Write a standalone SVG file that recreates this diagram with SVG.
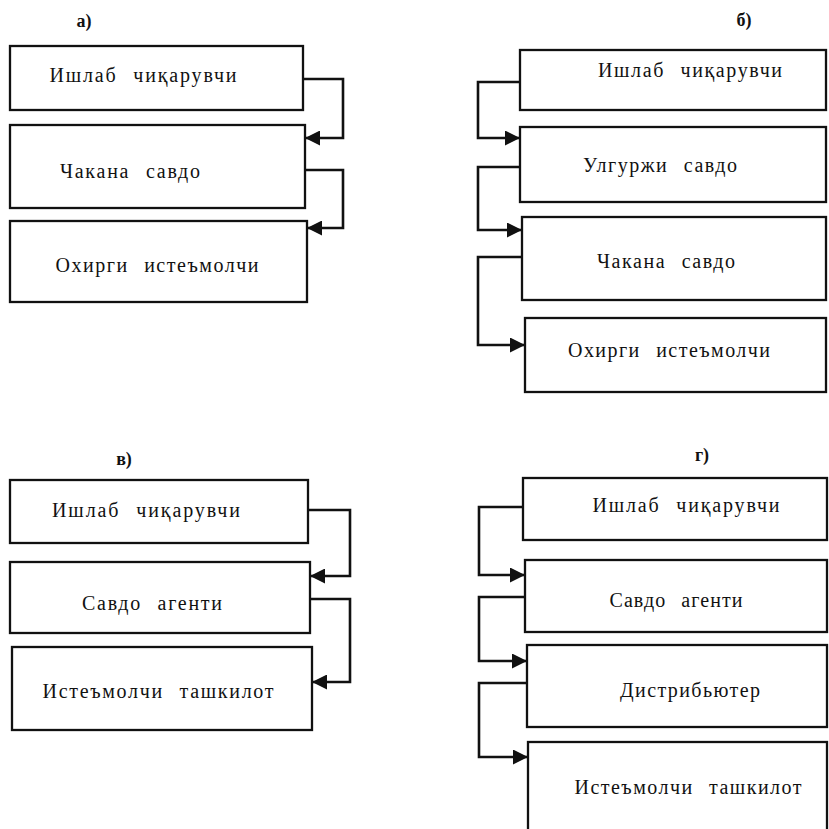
<svg xmlns="http://www.w3.org/2000/svg" width="829" height="829" viewBox="0 0 829 829">
<style>
.box{fill:#fff;stroke:#111;stroke-width:2.3}
.t{font-family:"Liberation Serif","Times New Roman",serif;font-size:20px;word-spacing:9px;fill:#111;text-anchor:middle}
.h{font-family:"Liberation Serif","Times New Roman",serif;font-size:18px;font-weight:bold;fill:#111;text-anchor:middle}
.c{fill:none;stroke:#111;stroke-width:2.6}
</style>
<defs>
<marker id="arr" viewBox="0 0 15 15" refX="15" refY="7.5" markerWidth="15" markerHeight="15" markerUnits="userSpaceOnUse" orient="auto">
<path d="M0,0 L15,7.5 L0,15 Z" fill="#111"/>
</marker>
</defs>
<rect width="829" height="829" fill="#fff"/>
<g id="labels">
<text class="h" x="84" y="27">а)</text>
<text class="h" x="744" y="26">б)</text>
<text class="h" x="124" y="465">в)</text>
<text class="h" x="702" y="461">г)</text>
</g>
<g id="connectors">
<path class="c" d="M303,79 H343 V138 H305" marker-end="url(#arr)"/>
<path class="c" d="M305,170 H343 V228 H307" marker-end="url(#arr)"/>
<path class="c" d="M520,82 H478 V138 H520" marker-end="url(#arr)"/>
<path class="c" d="M520,167 H478 V230 H522" marker-end="url(#arr)"/>
<path class="c" d="M522,257 H478 V345 H525" marker-end="url(#arr)"/>
<path class="c" d="M308,510 H350 V576 H310" marker-end="url(#arr)"/>
<path class="c" d="M310,599 H350 V682 H312" marker-end="url(#arr)"/>
<path class="c" d="M523,507 H479 V575 H525" marker-end="url(#arr)"/>
<path class="c" d="M525,597 H479 V661 H527" marker-end="url(#arr)"/>
<path class="c" d="M527,683 H479 V757 H528" marker-end="url(#arr)"/>
</g>
<g id="a1"><rect class="box" x="10" y="46" width="293" height="64"/><text class="t" x="143" y="82" textLength="187" lengthAdjust="spacing">Ишлаб чиқарувчи</text></g>
<g id="a2"><rect class="box" x="10" y="125" width="295" height="83"/><text class="t" x="130" y="178" textLength="140" lengthAdjust="spacing">Чакана савдо</text></g>
<g id="a3"><rect class="box" x="10" y="221" width="297" height="81"/><text class="t" x="157" y="272" textLength="203" lengthAdjust="spacing">Охирги истеъмолчи</text></g>
<g id="b1"><rect class="box" x="520" y="50" width="306" height="60"/><text class="t" x="690" y="77" textLength="184" lengthAdjust="spacing">Ишлаб чиқарувчи</text></g>
<g id="b2"><rect class="box" x="520" y="127" width="306" height="75"/><text class="t" x="660" y="172" textLength="154" lengthAdjust="spacing">Улгуржи савдо</text></g>
<g id="b3"><rect class="box" x="522" y="217" width="304" height="83"/><text class="t" x="666" y="268" textLength="138" lengthAdjust="spacing">Чакана савдо</text></g>
<g id="b4"><rect class="box" x="525" y="318" width="301" height="74"/><text class="t" x="669" y="357" textLength="202" lengthAdjust="spacing">Охирги истеъмолчи</text></g>
<g id="v1"><rect class="box" x="10" y="480" width="298" height="63"/><text class="t" x="146" y="517" textLength="188" lengthAdjust="spacing">Ишлаб чиқарувчи</text></g>
<g id="v2"><rect class="box" x="10" y="562" width="300" height="71"/><text class="t" x="152" y="610" textLength="140" lengthAdjust="spacing">Савдо агенти</text></g>
<g id="v3"><rect class="box" x="12" y="647" width="300" height="83"/><text class="t" x="158" y="698" textLength="231" lengthAdjust="spacing">Истеъмолчи ташкилот</text></g>
<g id="g1"><rect class="box" x="523" y="478" width="304" height="62"/><text class="t" x="686" y="512" textLength="187" lengthAdjust="spacing">Ишлаб чиқарувчи</text></g>
<g id="g2"><rect class="box" x="525" y="560" width="302" height="72"/><text class="t" x="676" y="607" textLength="133" lengthAdjust="spacing">Савдо агенти</text></g>
<g id="g3"><rect class="box" x="527" y="645" width="300" height="82"/><text class="t" x="690" y="697" textLength="140" lengthAdjust="spacing">Дистрибьютер</text></g>
<g id="g4"><rect class="box" x="528" y="742" width="299" height="100"/><text class="t" x="688" y="794" textLength="227" lengthAdjust="spacing">Истеъмолчи ташкилот</text></g>
</svg>
